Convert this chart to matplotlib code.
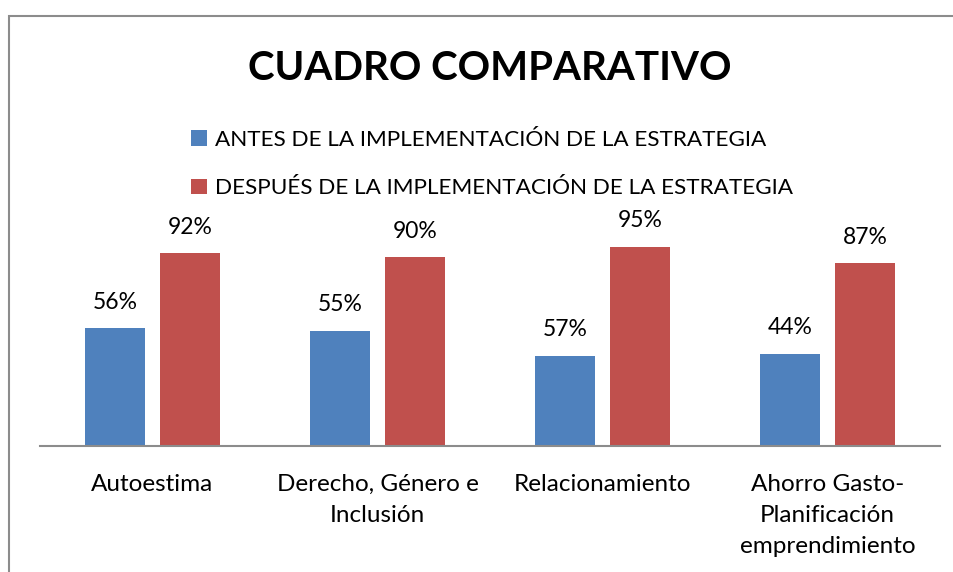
import matplotlib.pyplot as plt
import numpy as np
from matplotlib.patches import Rectangle

categorias = ['Autoestima', 'Derecho, Género e\nInclusión', 'Relacionamiento',
              'Ahorro Gasto-\nPlanificación\nemprendimiento']
antes = [56, 55, 43, 44]       # altura de barra
despues = [92, 90, 95, 87]
etiquetas_antes = ['56%', '55%', '57%', '44%']
etiquetas_despues = ['92%', '90%', '95%', '87%']
series = ['ANTES DE LA IMPLEMENTACIÓN DE LA ESTRATEGIA',
          'DESPUÉS DE LA IMPLEMENTACIÓN DE LA ESTRATEGIA']

plt.rcParams['font.family'] = ['Lato', 'DejaVu Sans']
W, H = 954, 572
fig = plt.figure(figsize=(W / 100, H / 100), dpi=100)

# marco del gráfico (sin borde derecho ni inferior visibles)
fig.patches.append(Rectangle((9.5 / W, -0.1), 1.0, 1.1 - 15.5 / H,
                             transform=fig.transFigure, fill=False,
                             edgecolor='#8c8c8c', lw=1.5))

ax = fig.add_axes([40 / W, (H - 446) / H, 900 / W, 234 / H])
x = np.arange(len(categorias))
w = 0.267
b1 = ax.bar(x - 0.167, antes, w, color='#4F81BD', label=series[0])
b2 = ax.bar(x + 0.167, despues, w, color='#C0504D', label=series[1])
ax.bar_label(b1, labels=etiquetas_antes, padding=11, fontsize=16.5)
ax.bar_label(b2, labels=etiquetas_despues, padding=11, fontsize=16.5)

ax.set_xlim(-0.5, len(categorias) - 0.5)
ax.set_ylim(0, 234 / 2.1)
for s in ['top', 'right', 'left']:
    ax.spines[s].set_visible(False)
ax.spines['bottom'].set_color('#8c8c8c')
ax.spines['bottom'].set_linewidth(1.5)
ax.set_yticks([])
ax.set_xticks(x)
ax.set_xticklabels(categorias, fontsize=17.5, linespacing=1.6)
ax.tick_params(axis='x', length=0, pad=20)

fig.text(490 / W, 1 - 68 / H, 'CUADRO COMPARATIVO', ha='center', va='center',
         fontsize=29, fontweight='bold')

fig.legend(handles=[b1, b2], loc='center left', frameon=False,
           bbox_to_anchor=(182 / W, 1 - 164 / H), fontsize=16.2,
           handlelength=0.7, handleheight=0.7, handletextpad=0.35,
           labelspacing=1.28, borderaxespad=0)

fig.savefig('out.png', dpi=100)
